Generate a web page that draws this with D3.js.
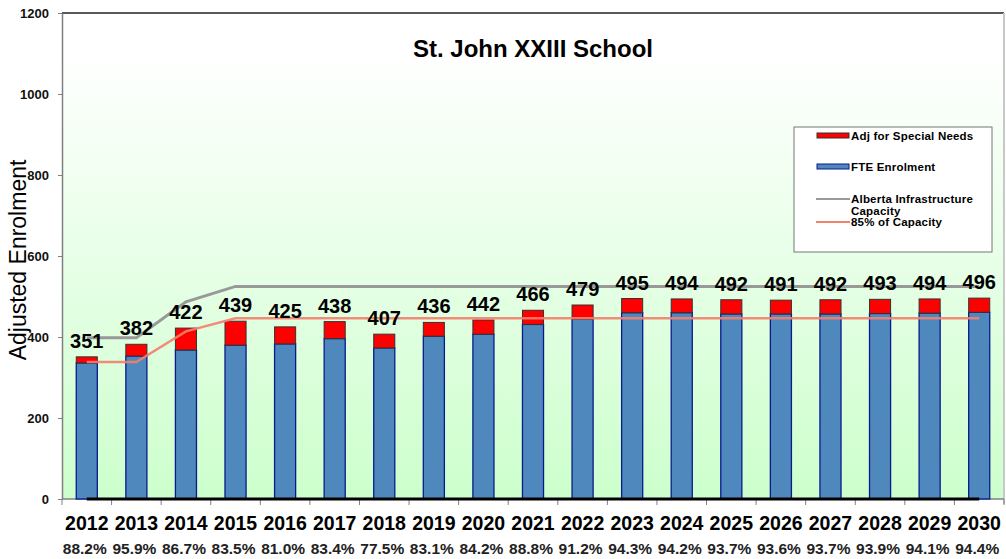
<!DOCTYPE html>
<html>
<head>
<meta charset="utf-8">
<script src="https://cdn.jsdelivr.net/npm/d3@7"></script>
<style>
  html, body { margin: 0; padding: 0; background: #fff; }
  svg { display: block; font-family: "Liberation Sans", Arial, sans-serif; }
</style>
</head>
<body>
<div id="chart"></div>
<script>
// school enrolment data
const years = ["2012", "2013", "2014", "2015", "2016", "2017", "2018", "2019", "2020", "2021",
               "2022", "2023", "2024", "2025", "2026", "2027", "2028", "2029", "2030"];
const fteEnrolment = [336, 353, 368, 380, 383, 396, 373, 402, 407, 431, 444, 460, 460, 457, 457, 457, 458, 459, 461];
const adjustedTotal = [351, 382, 422, 439, 425, 438, 407, 436, 442, 466, 479, 495, 494, 492, 491, 492, 493, 494, 496];
const capacity = [398, 398, 487, 525, 525, 525, 525, 525, 525, 525, 525, 525, 525, 525, 525, 525, 525, 525, 525];
const capacity85 = [338, 338, 414, 446, 446, 446, 446, 446, 446, 446, 446, 446, 446, 446, 446, 446, 446, 446, 446];
const zeroLine = [0, 0, 0, 0, 0, 0, 0, 0, 0, 0, 0, 0, 0, 0, 0, 0, 0, 0, 0];
const utilization = ["88.2%", "95.9%", "86.7%", "83.5%", "81.0%", "83.4%", "77.5%", "83.1%", "84.2%", "88.8%",
                     "91.2%", "94.3%", "94.2%", "93.7%", "93.6%", "93.7%", "93.9%", "94.1%", "94.4%"];
const yTicks = [0, 200, 400, 600, 800, 1000, 1200];

const width = 1006;
const height = 559;
const plot = { left: 62, right: 1004, top: 13, bottom: 499 };

const svg = d3.select("#chart").append("svg")
    .attr("width", width)
    .attr("height", height);

const x = d3.scaleBand()
    .domain(years)
    .range([plot.left, plot.right])
    .paddingInner(0.575)
    .paddingOuter(0.2875);

const y = d3.scaleLinear()
    .domain([0, 1200])
    .range([plot.bottom, plot.top]);

const cx = d => x(d) + x.bandwidth() / 2;

// plot background gradient
const grad = svg.append("defs").append("linearGradient")
    .attr("id", "bg")
    .attr("x1", 0).attr("y1", 0).attr("x2", 0).attr("y2", 1);
grad.append("stop").attr("offset", "0%").attr("stop-color", "#ffffff");
grad.append("stop").attr("offset", "8%").attr("stop-color", "#ffffff");
grad.append("stop").attr("offset", "100%").attr("stop-color", "#ccffcc");

svg.append("rect")
    .attr("x", plot.left)
    .attr("y", plot.top)
    .attr("width", plot.right - plot.left)
    .attr("height", plot.bottom - plot.top)
    .attr("fill", "url(#bg)");

// borders
svg.append("line")
    .attr("x1", plot.left).attr("x2", plot.right)
    .attr("y1", plot.top).attr("y2", plot.top)
    .attr("stroke", "#222").attr("stroke-width", 1.5);
svg.append("line")
    .attr("x1", plot.right).attr("x2", plot.right)
    .attr("y1", plot.top).attr("y2", plot.bottom + 5)
    .attr("stroke", "#c8c8c8").attr("stroke-width", 2);

// y axis
const yAxis = svg.append("g")
    .attr("transform", `translate(${plot.left},0)`)
    .call(d3.axisLeft(y).tickValues(yTicks).tickFormat(d3.format("d"))
        .tickSize(4).tickSizeOuter(0).tickPadding(9));
yAxis.select(".domain").attr("stroke", "#808080").attr("stroke-width", 1.5);
yAxis.selectAll(".tick line").attr("stroke", "#808080");
yAxis.selectAll(".tick text")
    .style("font-size", "13px")
    .style("font-weight", "bold")
    .attr("fill", "#111");

svg.append("text")
    .attr("transform", `translate(26,260) rotate(-90)`)
    .attr("text-anchor", "middle")
    .style("font-size", "23px")
    .text("Adjusted Enrolment");

// x axis: ticks between categories
const edges = years.map(d => x(d) - (x.step() - x.bandwidth()) / 2).concat([plot.right]);
svg.append("line")
    .attr("x1", plot.left).attr("x2", plot.right)
    .attr("y1", plot.bottom).attr("y2", plot.bottom)
    .attr("stroke", "#808080").attr("stroke-width", 1.5);
svg.append("g")
    .selectAll("line")
    .data(edges)
    .join("line")
    .attr("x1", d => d).attr("x2", d => d)
    .attr("y1", plot.bottom).attr("y2", plot.bottom + 6)
    .attr("stroke", "#808080");

// capacity lines
const line = d3.line()
    .x((d, i) => cx(years[i]))
    .y(d => y(d));

svg.append("path")
    .datum(capacity)
    .attr("d", line)
    .attr("fill", "none")
    .attr("stroke", "#999")
    .attr("stroke-width", 3);

// stacked bars
const bars = svg.append("g");
bars.selectAll(".fte")
    .data(years)
    .join("rect")
    .attr("class", "fte")
    .attr("x", d => x(d))
    .attr("width", x.bandwidth())
    .attr("y", (d, i) => y(fteEnrolment[i]))
    .attr("height", (d, i) => y(0) - y(fteEnrolment[i]))
    .attr("fill", "#4f88bd")
    .attr("stroke", "#0a1a8c")
    .attr("stroke-width", 1.3);

bars.selectAll(".adj")
    .data(years)
    .join("rect")
    .attr("class", "adj")
    .attr("x", d => x(d))
    .attr("width", x.bandwidth())
    .attr("y", (d, i) => y(adjustedTotal[i]))
    .attr("height", (d, i) => y(fteEnrolment[i]) - y(adjustedTotal[i]))
    .attr("fill", "#ff0000")
    .attr("stroke", "#333")
    .attr("stroke-width", 1);

svg.append("path")
    .datum(capacity85)
    .attr("d", line)
    .attr("fill", "none")
    .attr("stroke", "#f4806e")
    .attr("stroke-opacity", 0.9)
    .attr("stroke-width", 2.5);

svg.append("path")
    .datum(zeroLine)
    .attr("d", line)
    .attr("fill", "none")
    .attr("stroke", "#000")
    .attr("stroke-width", 3);

// value labels
svg.append("g")
    .selectAll("text")
    .data(years)
    .join("text")
    .attr("x", d => cx(d))
    .attr("y", (d, i) => y(adjustedTotal[i]) - 9)
    .attr("text-anchor", "middle")
    .style("font-size", "20px")
    .style("font-weight", "bold")
    .text((d, i) => adjustedTotal[i]);

// year labels and utilization
svg.append("g")
    .selectAll("text")
    .data(years)
    .join("text")
    .attr("x", d => cx(d))
    .attr("y", 530)
    .attr("text-anchor", "middle")
    .style("font-size", "19.5px")
    .style("font-weight", "bold")
    .text(d => d);

svg.append("g")
    .selectAll("text")
    .data(years)
    .join("text")
    .attr("x", d => cx(d) - 2)
    .attr("y", 554)
    .attr("text-anchor", "middle")
    .style("font-size", "15.5px")
    .style("font-weight", "bold")
    .attr("fill", "#222")
    .text((d, i) => utilization[i]);

// title
svg.append("text")
    .attr("x", (plot.left + plot.right) / 2)
    .attr("y", 57)
    .attr("text-anchor", "middle")
    .style("font-size", "24px")
    .style("font-weight", "bold")
    .text("St. John XXIII School");

// legend
const legend = svg.append("g").attr("transform", "translate(794,127)");
legend.append("rect")
    .attr("width", 198).attr("height", 125)
    .attr("fill", "#fff")
    .attr("stroke", "#777");

const legendItems = [
    { label: ["Adj for Special Needs"], type: "bar", fill: "#ff0000", stroke: "#333", y: 9 },
    { label: ["FTE Enrolment"], type: "bar", fill: "#4f88bd", stroke: "#0a1a8c", y: 40 },
    { label: ["Alberta Infrastructure", "Capacity"], type: "line", stroke: "#999", y: 72 },
    { label: ["85%  of Capacity"], type: "line", stroke: "#f4806e", y: 95 }
];

legendItems.forEach(item => {
    if (item.type === "bar") {
        legend.append("rect")
            .attr("x", 23).attr("y", item.y - 3)
            .attr("width", 32).attr("height", 5)
            .attr("fill", item.fill)
            .attr("stroke", item.stroke);
    } else {
        legend.append("line")
            .attr("x1", 22).attr("x2", 56)
            .attr("y1", item.y).attr("y2", item.y)
            .attr("stroke", item.stroke)
            .attr("stroke-width", 2);
    }
    item.label.forEach((t, j) => {
        legend.append("text")
            .attr("x", 57)
            .attr("y", item.y + 4 + j * 12)
            .style("font-size", "11.5px")
            .style("font-weight", "bold")
            .style("letter-spacing", "0.2px")
            .text(t);
    });
});
</script>
</body>
</html>
